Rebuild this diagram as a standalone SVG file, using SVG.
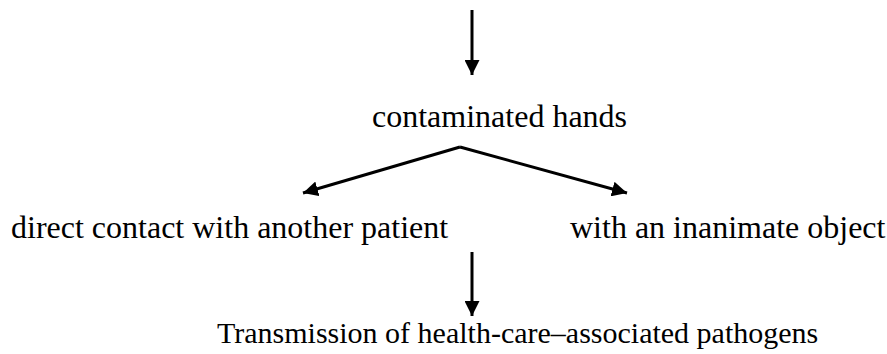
<svg xmlns="http://www.w3.org/2000/svg" width="887" height="354" viewBox="0 0 887 354">
<style>
text{font-family:"Liberation Serif","Times New Roman",serif;font-size:32px;fill:#000}
.c{stroke:#000;stroke-width:3;fill:none}
</style>
<defs>
<marker id="ah" viewBox="0 0 10 10" refX="10" refY="5" markerWidth="5" markerHeight="5" markerUnits="strokeWidth" orient="auto">
<path d="M0,0 L10,5 L0,10 z" fill="#000"/>
</marker>
</defs>
<rect width="887" height="354" fill="#fff"/>
<g id="connectors">
<line class="c" x1="472" y1="10" x2="472" y2="75" marker-end="url(#ah)"/>
<polyline class="c" points="460,147 303,193" marker-end="url(#ah)"/>
<polyline class="c" points="460,147 627,193" marker-end="url(#ah)"/>
<line class="c" x1="472" y1="252" x2="472" y2="316" marker-end="url(#ah)"/>
</g>
<g id="n1"><text x="372" y="127">contaminated hands</text></g>
<g id="n2"><text x="11" y="238">direct contact with another patient</text></g>
<g id="n3"><text x="570" y="238">with an inanimate object</text></g>
<g id="n4"><text x="217" y="343" style="font-size:30px">Transmission of health-care–associated pathogens</text></g>
</svg>
